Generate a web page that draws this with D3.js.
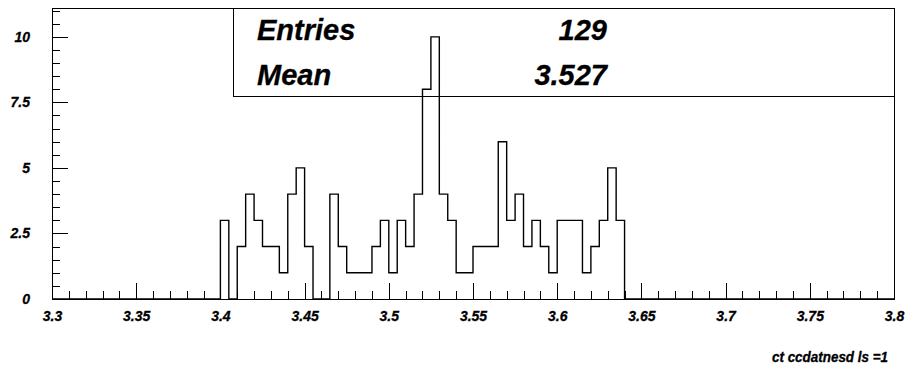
<!DOCTYPE html>
<html>
<head>
<meta charset="utf-8">
<script src="https://cdn.jsdelivr.net/npm/d3@7"></script>
<style>
  html, body { margin: 0; padding: 0; background: #fff; }
  svg text { font-family: "Liberation Sans", Arial, Helvetica, sans-serif; font-weight: bold; font-style: italic; fill: #000; stroke: #000; stroke-width: 0.3px; }
</style>
</head>
<body>
<svg id="chart" width="905" height="369"></svg>
<script>
// Histogram binning: 100 bins of width 0.005 over [3.3, 3.8]
const xLow = 3.3;
const xHigh = 3.8;
const binWidth = 0.005;

// Counts per bin, bin 0 starts at 3.300
const binCounts = [
  0, 0, 0, 0, 0, 0, 0, 0, 0, 0,
  0, 0, 0, 0, 0, 0, 0, 0, 0, 0,
  3, 0, 2, 4, 3, 2, 2, 1, 4, 5,
  2, 0, 0, 4, 2, 1, 1, 1, 2, 3,
  1, 3, 2, 4, 8, 10, 4, 3, 1, 1,
  2, 2, 2, 6, 3, 4, 2, 3, 2, 1,
  3, 3, 3, 1, 2, 3, 5, 3, 0, 0,
  0, 0, 0, 0, 0, 0, 0, 0, 0, 0,
  0, 0, 0, 0, 0, 0, 0, 0, 0, 0,
  0, 0, 0, 0, 0, 0, 0, 0, 0, 0
];

// Axis ticks
const xMajorTicks = [3.3, 3.35, 3.4, 3.45, 3.5, 3.55, 3.6, 3.65, 3.7, 3.75, 3.8];
const xTickLabels = ["3.3", "3.35", "3.4", "3.45", "3.5", "3.55", "3.6", "3.65", "3.7", "3.75", "3.8"];
const yMajorTicks = [0, 2.5, 5, 7.5, 10];
const yTickLabels = ["0", "2.5", "5", "7.5", "10"];
const yMax = 11.1;

const axisTitle = "ct ccdatnesd ls =1";

const svg = d3.select("#chart");
const frame = { left: 52, right: 894, top: 8, bottom: 299 };

const x = d3.scaleLinear().domain([xLow, xHigh]).range([frame.left, frame.right]);
const y = d3.scaleLinear().domain([0, yMax]).range([frame.bottom, frame.top]);

// minor tick positions
const xMinor = d3.range(0, 51).map(i => +(xLow + i * 0.01).toFixed(3));
const yMinor = d3.range(0, 23).map(i => i * 0.5).filter(v => v <= yMax);

// Frame
svg.append("rect")
  .attr("x", frame.left).attr("y", frame.top)
  .attr("width", frame.right - frame.left).attr("height", frame.bottom - frame.top)
  .attr("fill", "none").attr("stroke", "#000").attr("stroke-width", 1)
  .attr("shape-rendering", "crispEdges");

// X axis: minor then major ticks, drawn inward
svg.append("g")
  .attr("transform", `translate(0,${frame.bottom})`)
  .call(d3.axisBottom(x).tickValues(xMinor).tickSize(-8).tickFormat(""))
  .call(g => g.select(".domain").remove());

svg.append("g")
  .attr("transform", `translate(0,${frame.bottom})`)
  .call(d3.axisBottom(x).tickValues(xMajorTicks).tickSize(-16).tickPadding(12)
    .tickFormat((d, i) => xTickLabels[i]))
  .call(g => g.select(".domain").remove())
  .call(g => g.selectAll("text").attr("font-size", 14).attr("font-family", null));

// Y axis
svg.append("g")
  .attr("transform", `translate(${frame.left},0)`)
  .call(d3.axisLeft(y).tickValues(yMinor).tickSize(-8).tickFormat(""))
  .call(g => g.select(".domain").remove());

svg.append("g")
  .attr("transform", `translate(${frame.left},0)`)
  .call(d3.axisLeft(y).tickValues(yMajorTicks).tickSize(-16).tickPadding(22)
    .tickFormat((d, i) => yTickLabels[i]))
  .call(g => g.select(".domain").remove())
  .call(g => g.selectAll("text").attr("font-size", 14).attr("font-family", null));

svg.selectAll(".tick line").attr("stroke", "#000").attr("shape-rendering", "crispEdges");

// Stepped histogram outline
const pts = [[xLow, 0]];
binCounts.forEach((c, i) => {
  const x0 = xLow + i * binWidth, x1 = xLow + (i + 1) * binWidth;
  pts.push([x0, c], [x1, c]);
});
pts.push([xHigh, 0]);

svg.append("path")
  .attr("d", d3.line().x(d => x(d[0])).y(d => y(d[1]))(pts))
  .attr("fill", "none").attr("stroke", "#000").attr("stroke-width", 1.4);

// Statistics box
const entries = d3.sum(binCounts);
const mean = d3.sum(binCounts, (c, i) => c * (xLow + (i + 0.5) * binWidth)) / entries;

const box = svg.append("g");
box.append("rect")
  .attr("x", 233).attr("y", frame.top).attr("width", frame.right - 233).attr("height", 88)
  .attr("fill", "none").attr("stroke", "#000").attr("stroke-width", 1)
  .attr("shape-rendering", "crispEdges");
box.append("text").attr("x", 257).attr("y", 40).attr("font-size", 29).text("Entries");
box.append("text").attr("x", 257).attr("y", 85).attr("font-size", 29).text("Mean");
box.append("text").attr("x", 607).attr("y", 40).attr("font-size", 29)
  .attr("text-anchor", "end").text(String(entries));
box.append("text").attr("x", 607).attr("y", 85).attr("font-size", 29)
  .attr("text-anchor", "end").text(mean.toFixed(3));

// Axis title, bottom right
svg.append("text")
  .attr("x", 772).attr("y", 362).attr("font-size", 14)
  .attr("textLength", 116).attr("lengthAdjust", "spacingAndGlyphs")
  .text(axisTitle);
</script>
</body>
</html>
